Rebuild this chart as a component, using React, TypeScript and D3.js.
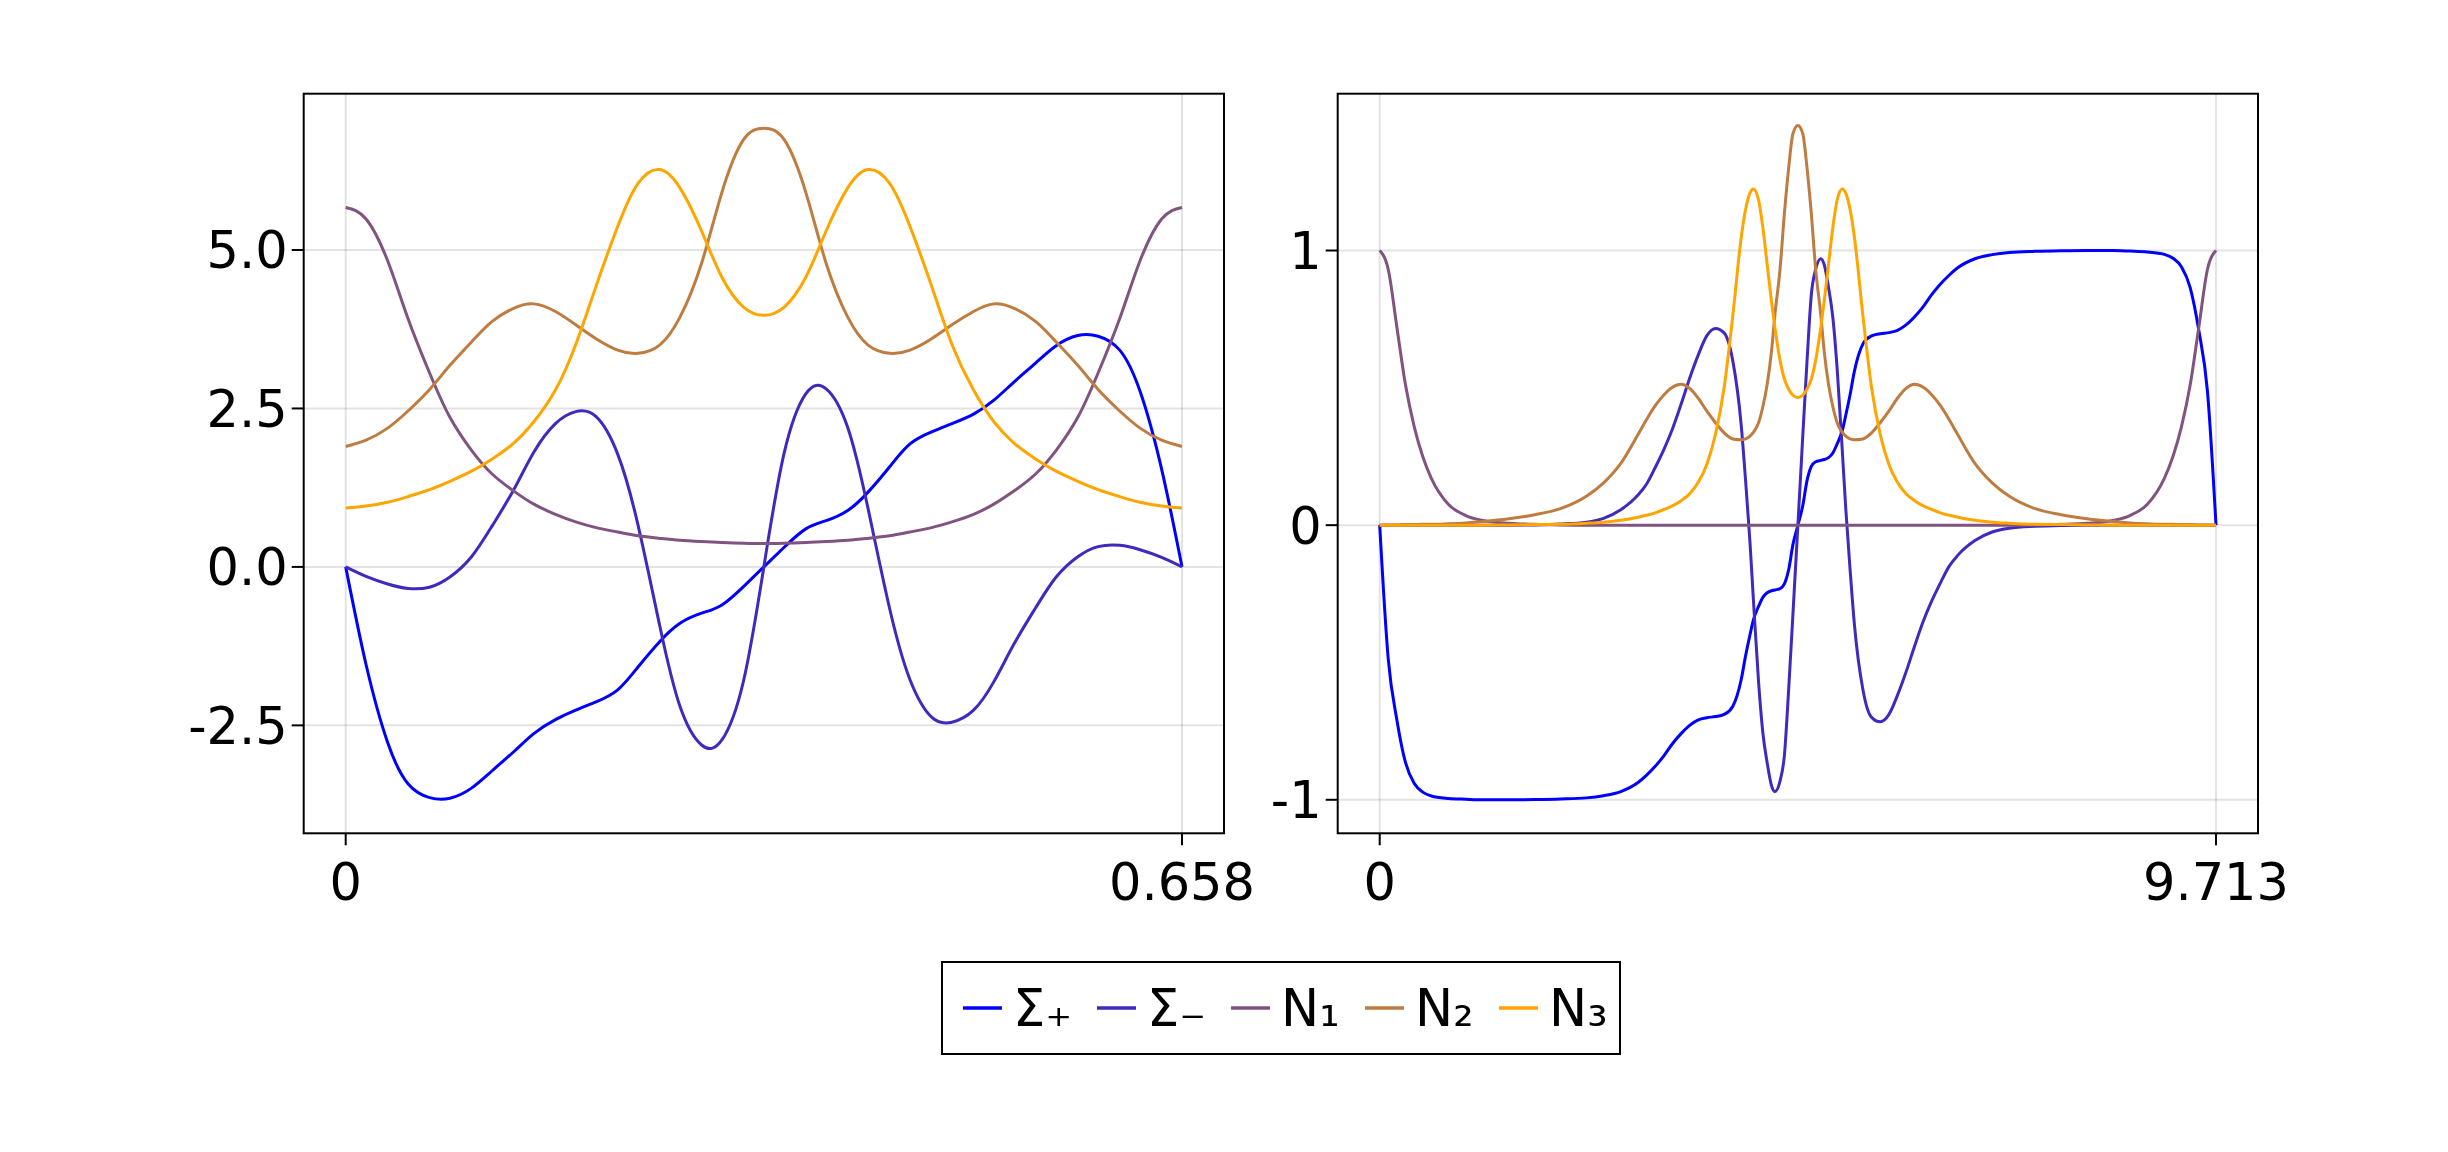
import * as d3 from "d3";

const seriesNames = ["Σ₊", "Σ₋", "N₁", "N₂", "N₃"];
const seriesColors = ["#0000ff", "#4029bf", "#805380", "#bf7c40", "#ffa500"];

// left panel: x in [0, 0.658]
const leftX = [
  0, 0.016, 0.033, 0.049, 0.066, 0.082, 0.099, 0.115, 0.132, 0.148, 0.165, 0.181, 0.197, 0.214,
  0.23, 0.247, 0.263, 0.28, 0.296, 0.313, 0.329, 0.345, 0.362, 0.378, 0.395, 0.411, 0.428, 0.444,
  0.461, 0.477, 0.494, 0.51, 0.526, 0.543, 0.559, 0.576, 0.592, 0.609, 0.625, 0.642, 0.658,
];
const leftSigmaPlus = [
  0, -1.54, -2.77, -3.42, -3.64, -3.65, -3.49, -3.22, -2.92, -2.63, -2.41, -2.26, -2.13, -1.94,
  -1.58, -1.18, -0.89, -0.73, -0.6, -0.31, 0, 0.31, 0.6, 0.73, 0.89, 1.18, 1.58, 1.94, 2.13, 2.26,
  2.41, 2.63, 2.92, 3.22, 3.49, 3.65, 3.64, 3.42, 2.77, 1.54, 0,
];
const leftSigmaMinus = [
  0, -0.15, -0.27, -0.34, -0.32, -0.16, 0.16, 0.64, 1.21, 1.81, 2.26, 2.45, 2.37, 1.78, 0.66,
  -0.92, -2.2, -2.81, -2.73, -1.8, 0, 1.8, 2.73, 2.81, 2.2, 0.92, -0.66, -1.78, -2.37, -2.45,
  -2.26, -1.81, -1.21, -0.64, -0.16, 0.16, 0.32, 0.34, 0.27, 0.15, 0,
];
const leftN1 = [
  5.67, 5.49, 4.83, 3.92, 3.06, 2.36, 1.84, 1.47, 1.2, 0.99, 0.83, 0.71, 0.62, 0.55, 0.49, 0.45,
  0.42, 0.4, 0.385, 0.375, 0.37, 0.375, 0.385, 0.4, 0.42, 0.45, 0.49, 0.55, 0.62, 0.71, 0.83,
  0.99, 1.2, 1.47, 1.84, 2.36, 3.06, 3.92, 4.83, 5.49, 5.67,
];
const leftN2 = [
  1.9, 2.0, 2.19, 2.46, 2.8, 3.18, 3.55, 3.87, 4.08, 4.15, 4.03, 3.82, 3.6, 3.42, 3.37, 3.5, 3.94,
  4.79, 5.91, 6.74, 6.92, 6.74, 5.91, 4.79, 3.94, 3.5, 3.37, 3.42, 3.6, 3.82, 4.03, 4.15, 4.08,
  3.87, 3.55, 3.18, 2.8, 2.46, 2.19, 2.0, 1.9,
];
const leftN3 = [
  0.93, 0.96, 1.02, 1.11, 1.22, 1.35, 1.51, 1.7, 1.95, 2.29, 2.79, 3.51, 4.43, 5.37, 6.05, 6.27,
  5.98, 5.3, 4.57, 4.1, 3.97, 4.1, 4.57, 5.3, 5.98, 6.27, 6.05, 5.37, 4.43, 3.51, 2.79, 2.29, 1.95,
  1.7, 1.51, 1.35, 1.22, 1.11, 1.02, 0.96, 0.93,
];
const leftYTicks = [-2.5, 0, 2.5, 5];
const leftYTickLabels = ["-2.5", "0.0", "2.5", "5.0"];
const leftXTicks = [0, 0.658];
const leftXTickLabels = ["0", "0.658"];

// right panel: x in [0, 9.713]
const rightX = [
  0, 0.1, 0.2, 0.3, 0.4, 0.5, 0.6, 0.8, 1.0, 1.2, 1.5, 1.8, 2.1, 2.4, 2.6, 2.8, 3.0, 3.1, 3.2,
  3.3, 3.4, 3.5, 3.6, 3.7, 3.8, 3.9, 4.0, 4.1, 4.2, 4.25, 4.3, 4.34, 4.4, 4.45, 4.5, 4.55, 4.59,
  4.65, 4.7, 4.75, 4.8, 4.857, 4.913, 4.963, 5.013, 5.063, 5.123, 5.163, 5.213, 5.263, 5.313,
  5.373, 5.413, 5.463, 5.513, 5.613, 5.713, 5.813, 5.913, 6.013, 6.113, 6.213, 6.313, 6.413,
  6.513, 6.613, 6.713, 6.913, 7.113, 7.313, 7.613, 7.913, 8.213, 8.513, 8.713, 8.913, 9.113,
  9.213, 9.313, 9.413, 9.513, 9.613, 9.713,
];
const rightSigmaPlus = [
  0, -0.49, -0.71, -0.865, -0.94, -0.972, -0.986, -0.995, -0.998, -1.0, -1.0, -0.999, -0.997,
  -0.993, -0.985, -0.97, -0.937, -0.91, -0.878, -0.84, -0.796, -0.759, -0.729, -0.709, -0.701,
  -0.697, -0.689, -0.66, -0.56, -0.475, -0.4, -0.345, -0.296, -0.263, -0.246, -0.239, -0.236,
  -0.231, -0.214, -0.162, -0.07, 0, 0.07, 0.162, 0.214, 0.231, 0.236, 0.239, 0.246, 0.263, 0.296,
  0.345, 0.4, 0.475, 0.56, 0.66, 0.689, 0.697, 0.701, 0.709, 0.729, 0.759, 0.796, 0.84, 0.878,
  0.91, 0.937, 0.97, 0.985, 0.993, 0.997, 0.999, 1.0, 1.0, 0.998, 0.995, 0.986, 0.972, 0.94,
  0.865, 0.71, 0.49, 0,
];
const rightSigmaMinus = [
  0, 0, 0, 0, 0, 0, 0, 0, 0, 0, 0, 0.001, 0.004, 0.011, 0.025, 0.056, 0.11, 0.15, 0.21, 0.275,
  0.35, 0.44, 0.535, 0.62, 0.69, 0.716, 0.7, 0.6, 0.36, 0.16, -0.06, -0.27, -0.57, -0.756, -0.865,
  -0.948, -0.97, -0.931, -0.839, -0.597, -0.321, 0, 0.321, 0.597, 0.839, 0.931, 0.97, 0.948,
  0.865, 0.756, 0.57, 0.27, 0.06, -0.16, -0.36, -0.6, -0.7, -0.716, -0.69, -0.62, -0.535, -0.44,
  -0.35, -0.275, -0.21, -0.15, -0.11, -0.056, -0.025, -0.011, -0.004, -0.001, 0, 0, 0, 0, 0, 0,
  0, 0, 0, 0, 0,
];
const rightN1 = [
  1.0, 0.93, 0.72, 0.51, 0.36, 0.25, 0.17, 0.075, 0.035, 0.017, 0.007, 0.003, 0.001, 0, 0, 0, 0,
  0, 0, 0, 0, 0, 0, 0, 0, 0, 0, 0, 0, 0, 0, 0, 0, 0, 0, 0, 0, 0, 0, 0, 0, 0, 0, 0, 0, 0, 0, 0, 0,
  0, 0, 0, 0, 0, 0, 0, 0, 0, 0, 0, 0, 0, 0, 0, 0, 0, 0, 0, 0, 0, 0.001, 0.003, 0.007, 0.017,
  0.035, 0.075, 0.17, 0.25, 0.36, 0.51, 0.72, 0.93, 1.0,
];
const rightN2 = [
  0, 0.001, 0.001, 0.002, 0.002, 0.003, 0.003, 0.005, 0.008, 0.013, 0.023, 0.038, 0.06, 0.105,
  0.154, 0.225, 0.33, 0.385, 0.435, 0.474, 0.502, 0.513, 0.498, 0.462, 0.415, 0.373, 0.336,
  0.314, 0.311, 0.314, 0.324, 0.338, 0.373, 0.431, 0.512, 0.632, 0.766, 0.933, 1.134, 1.301,
  1.426, 1.455, 1.426, 1.301, 1.134, 0.933, 0.766, 0.632, 0.512, 0.431, 0.373, 0.338, 0.324,
  0.314, 0.311, 0.314, 0.336, 0.373, 0.415, 0.462, 0.498, 0.513, 0.502, 0.474, 0.435, 0.385,
  0.33, 0.225, 0.154, 0.105, 0.06, 0.038, 0.023, 0.013, 0.008, 0.005, 0.003, 0.003, 0.002,
  0.002, 0.001, 0.001, 0,
];
const rightN3 = [
  0, 0, 0, 0, 0, 0, 0, 0, 0, 0, 0.001, 0.002, 0.003, 0.007, 0.011, 0.018, 0.029, 0.036, 0.045,
  0.057, 0.07, 0.089, 0.114, 0.156, 0.222, 0.331, 0.5, 0.76, 1.05, 1.15, 1.209, 1.224, 1.184,
  1.084, 0.95, 0.816, 0.72, 0.6, 0.532, 0.495, 0.473, 0.465, 0.473, 0.495, 0.532, 0.6, 0.72,
  0.816, 0.95, 1.084, 1.184, 1.224, 1.209, 1.15, 1.05, 0.76, 0.5, 0.331, 0.222, 0.156, 0.114,
  0.089, 0.07, 0.057, 0.045, 0.036, 0.029, 0.018, 0.011, 0.007, 0.003, 0.002, 0.001, 0, 0, 0, 0,
  0, 0, 0, 0, 0, 0,
];
const rightYTicks = [-1, 0, 1];
const rightYTickLabels = ["-1", "0", "1"];
const rightXTicks = [0, 9.713];
const rightXTickLabels = ["0", "9.713"];

const W = 2448;
const H = 1152;
const TOP = 93.7;
const BOTTOM = 833.3;
const FONT = "DejaVu Sans, Liberation Sans, sans-serif";
const FS = 51;

function Panel({ left, right, xMax, yDomain, xs, series, yTicks, yLabels, xTicks, xLabels, curve }: any) {
  const x = d3.scaleLinear().domain([0, xMax]).range([left + 42, right - 42]);
  const y = d3.scaleLinear().domain(yDomain).range([BOTTOM, TOP]);
  const line = d3
    .line<number>()
    .x((_, i) => x(xs[i]))
    .y((d) => y(d))
    .curve(curve);

  return (
    <g>
      {/* grid */}
      <g stroke="#000" strokeOpacity={0.11} strokeWidth={2}>
        {yTicks.map((t: number) => (
          <line key={"gy" + t} x1={left} x2={right} y1={y(t)} y2={y(t)} />
        ))}
        {xTicks.map((t: number) => (
          <line key={"gx" + t} x1={x(t)} x2={x(t)} y1={TOP} y2={BOTTOM} />
        ))}
      </g>
      {/* series */}
      <g fill="none" strokeWidth={3} strokeLinejoin="round">
        {series.map((s: number[], i: number) => (
          <path key={i} d={line(s) || ""} stroke={seriesColors[i]} />
        ))}
      </g>
      {/* frame */}
      <rect x={left} y={TOP} width={right - left} height={BOTTOM - TOP} fill="none" stroke="#000" strokeWidth={2} />
      {/* ticks and labels */}
      <g fontFamily={FONT} fontSize={FS} fill="#000">
        {yTicks.map((t: number, i: number) => (
          <g key={"ty" + t}>
            <line x1={left - 12} x2={left} y1={y(t)} y2={y(t)} stroke="#000" strokeWidth={2} />
            <text x={left - 16} y={y(t) + 18.5} textAnchor="end">
              {yLabels[i]}
            </text>
          </g>
        ))}
        {xTicks.map((t: number, i: number) => (
          <g key={"tx" + t}>
            <line x1={x(t)} x2={x(t)} y1={BOTTOM} y2={BOTTOM + 12} stroke="#000" strokeWidth={2} />
            <text x={x(t)} y={900} textAnchor="middle">
              {xLabels[i]}
            </text>
          </g>
        ))}
      </g>
    </g>
  );
}

function Legend() {
  const x0 = 942;
  const step = 134;
  return (
    <g fontFamily={FONT} fontSize={FS}>
      <rect x={x0} y={962} width={678} height={92} fill="#fff" stroke="#000" strokeWidth={2} />
      {seriesNames.map((name, i) => (
        <g key={name} transform={`translate(${x0 + 21 + i * step},0)`}>
          <line x1={0} x2={39} y1={1008} y2={1008} stroke={seriesColors[i]} strokeWidth={3.5} />
          <text x={50} y={1026} fill="#000">
            {name}
          </text>
        </g>
      ))}
    </g>
  );
}

export default function App() {
  return (
    <div style={{ position: "absolute", left: 0, top: 0, width: W, height: H, background: "#fff" }}>
      <svg width={W} height={H} viewBox={`0 0 ${W} ${H}`}>
        <rect width={W} height={H} fill="#fff" />
        <Panel
          left={303.7}
          right={1224}
          xMax={0.658}
          yDomain={[-4.203, 7.466]}
          xs={leftX}
          series={[leftSigmaPlus, leftSigmaMinus, leftN1, leftN2, leftN3]}
          yTicks={leftYTicks}
          yLabels={leftYTickLabels}
          xTicks={leftXTicks}
          xLabels={leftXTickLabels}
          curve={d3.curveNatural}
        />
        <Panel
          left={1337.7}
          right={2258}
          xMax={9.713}
          yDomain={[-1.122, 1.571]}
          xs={rightX}
          series={[rightSigmaPlus, rightSigmaMinus, rightN1, rightN2, rightN3]}
          yTicks={rightYTicks}
          yLabels={rightYTickLabels}
          xTicks={rightXTicks}
          xLabels={rightXTickLabels}
          curve={d3.curveMonotoneX}
        />
        <Legend />
      </svg>
    </div>
  );
}
